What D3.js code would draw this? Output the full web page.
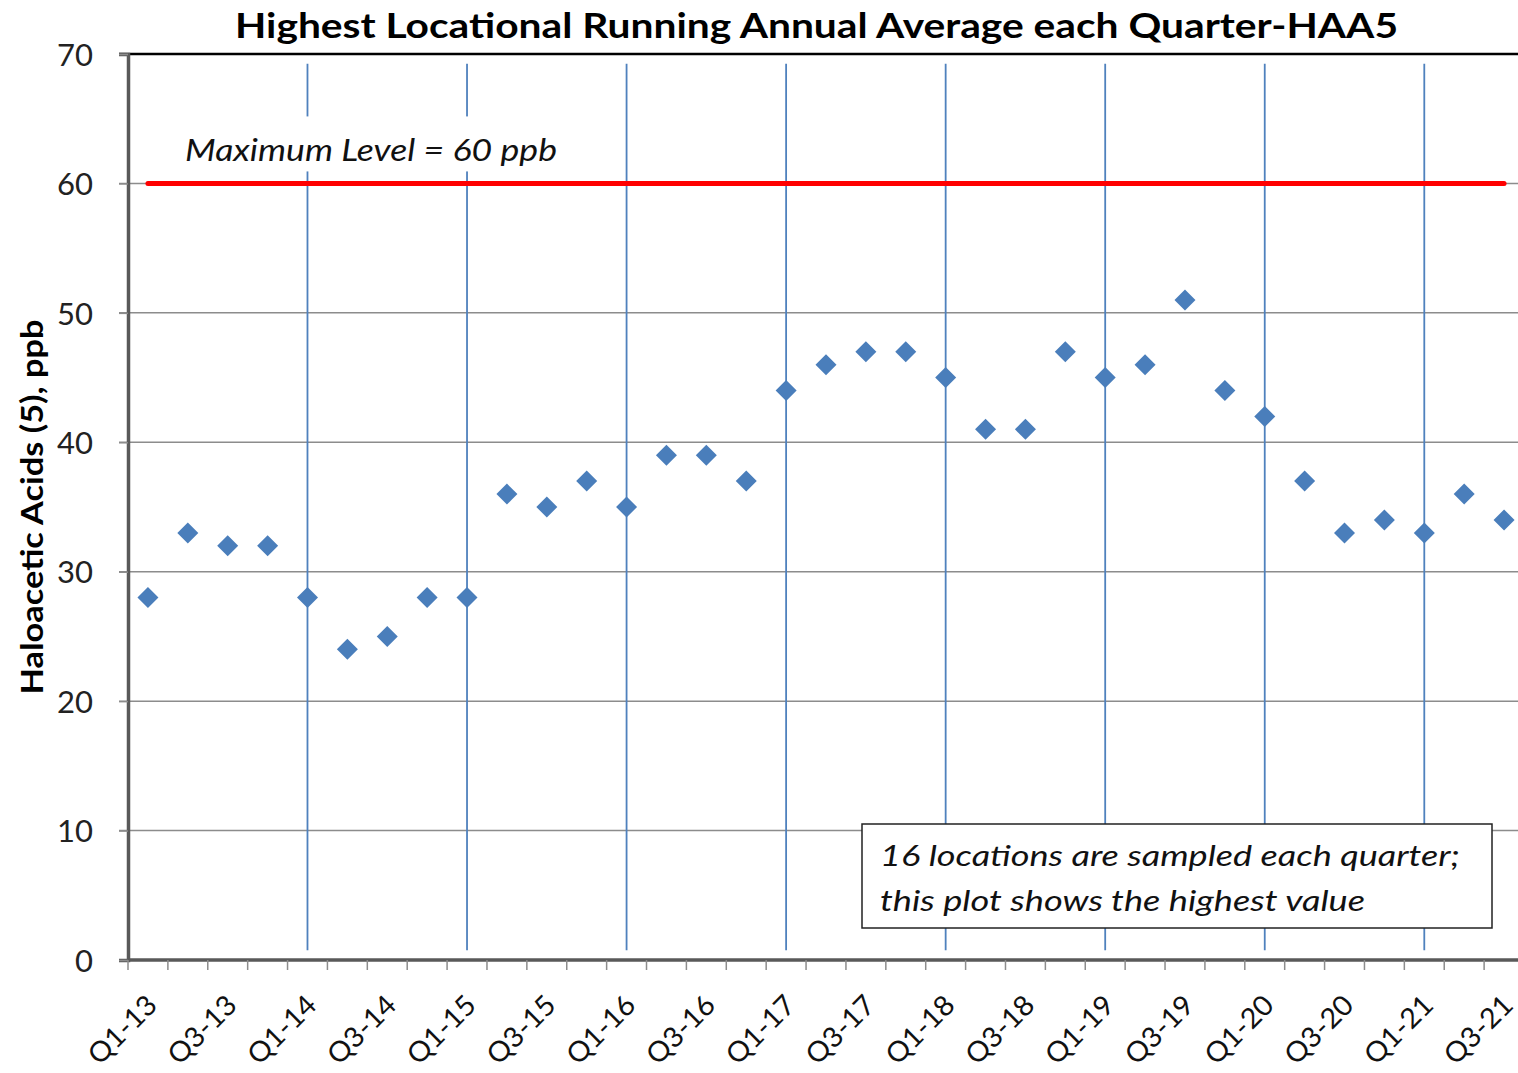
<!DOCTYPE html>
<html><head><meta charset="utf-8">
<script src="https://cdn.jsdelivr.net/npm/d3@7"></script>
<style>body{margin:0;background:#fff}svg{display:block}text{font-family:Lato,"Open Sans",sans-serif}</style>
</head><body><svg id="c" width="1518" height="1073"></svg>
<script>
const quarters = ["Q1-13","Q2-13","Q3-13","Q4-13","Q1-14","Q2-14","Q3-14","Q4-14","Q1-15","Q2-15","Q3-15","Q4-15","Q1-16","Q2-16","Q3-16","Q4-16","Q1-17","Q2-17","Q3-17","Q4-17","Q1-18","Q2-18","Q3-18","Q4-18","Q1-19","Q2-19","Q3-19","Q4-19","Q1-20","Q2-20","Q3-20","Q4-20","Q1-21","Q2-21","Q3-21"];
const haa5 = [28,33,32,32,28,24,25,28,28,36,35,37,35,39,39,37,44,46,47,47,45,41,41,47,45,46,51,44,42,37,33,34,33,36,34];
const yTicks = [0,10,20,30,40,50,60,70];
const maxLevel = 60;
const title = "Highest Locational Running Annual Average each Quarter-HAA5";
const yLabel = "Haloacetic Acids (5), ppb";
const maxLabel = "Maximum Level = 60 ppb";
const noteLines = ["16 locations are sampled each quarter;","this plot shows the highest value"];

const svg = d3.select("#c");
const L=128, R=1524, T=54, B=960;
const x = d3.scaleBand().domain(quarters).range([L,R]).padding(0);
const y = d3.scaleLinear().domain([0,70]).range([B,T]);
const cx = q => x(q)+x.bandwidth()/2;

// gridlines
svg.append("g").selectAll("line").data(yTicks.filter(v=>v>0&&v<70)).join("line")
  .attr("x1",L-9).attr("x2",1518).attr("y1",d=>y(d)).attr("y2",d=>y(d))
  .attr("stroke","#8c8c8c").attr("stroke-width",1.5);
// top border
svg.append("line").attr("x1",L-9).attr("x2",1518).attr("y1",y(70)).attr("y2",y(70)).attr("stroke","#000").attr("stroke-width",2.5);

// vertical blue lines at Q1 (except first)
const q1 = quarters.filter((q,i)=>q.startsWith("Q1")&&i>0);
svg.append("g").selectAll("line").data(q1).join("line")
  .attr("x1",cx).attr("x2",cx).attr("y1",y(69.25)).attr("y2",y(0.75))
  .attr("stroke","#4f81bd").attr("stroke-width",1.8);

// red max line
svg.append("line").attr("x1",cx(quarters[0])).attr("x2",cx(quarters[quarters.length-1]))
  .attr("y1",y(maxLevel)).attr("y2",y(maxLevel)).attr("stroke","#ff0000").attr("stroke-width",5).attr("stroke-linecap","round");

// max label with white background
const ml = svg.append("g");
ml.append("rect").attr("x",178).attr("y",y(maxLevel)-67).attr("width",386).attr("height",55).attr("fill","#fff");
ml.append("text").attr("x",185).attr("y",y(maxLevel)-22).attr("font-size",30).attr("font-style","italic").attr("fill","#111")
  .attr("textLength",372).attr("lengthAdjust","spacingAndGlyphs").text(maxLabel);

// y axis
const ya = svg.append("g").attr("transform",`translate(${L},0)`).call(d3.axisLeft(y).tickValues(yTicks).tickSize(9).tickPadding(26));
ya.select(".domain").attr("stroke","#595959").attr("stroke-width",3.5);
ya.selectAll(".tick line").attr("stroke","#8c8c8c").attr("stroke-width",1.5);
ya.selectAll(".tick text").attr("font-size",31).attr("fill","#222").attr("font-family","Lato,sans-serif").attr("dy","0.36em");

// x axis
svg.append("line").attr("x1",L).attr("x2",1518).attr("y1",B).attr("y2",B).attr("stroke","#595959").attr("stroke-width",3.5);
const bounds = quarters.map(q=>x(q)).concat([R]);
svg.append("g").selectAll("line").data(bounds).join("line")
  .attr("x1",d=>d).attr("x2",d=>d).attr("y1",B).attr("y2",B+10).attr("stroke","#8c8c8c").attr("stroke-width",1.5);
svg.append("g").selectAll("text").data(quarters.filter((q,i)=>i%2===0)).join("text")
  .attr("transform",d=>`translate(${cx(d)-3},${B+33}) rotate(-45)`)
  .attr("text-anchor","end").attr("dy","0.7em").attr("font-size",28).attr("fill","#111")
  .attr("textLength",84).attr("lengthAdjust","spacingAndGlyphs").text(d=>d);

// points
svg.append("g").selectAll("path").data(quarters).join("path")
  .attr("d",(q,i)=>`M${cx(q)},${y(haa5[i])-10.5}l10.5,10.5l-10.5,10.5l-10.5,-10.5z`)
  .attr("fill","#4a7ebb");

// note box
const nb = svg.append("g");
nb.append("rect").attr("x",862).attr("y",824).attr("width",630).attr("height",104).attr("fill","#fff").attr("stroke","#222").attr("stroke-width",1.5);
const noteW = [580,485];
nb.selectAll("text").data(noteLines).join("text").attr("x",880).attr("y",(d,i)=>866+i*45)
  .attr("font-size",28).attr("font-style","italic").attr("fill","#111")
  .attr("textLength",(d,i)=>noteW[i]).attr("lengthAdjust","spacingAndGlyphs").text(d=>d);

// title
svg.append("text").attr("x",235).attr("y",38).attr("font-size",35).attr("font-weight","bold").attr("fill","#000")
  .attr("textLength",1163).attr("lengthAdjust","spacingAndGlyphs").text(title);
// y label
svg.append("text").attr("transform",`translate(43,${507}) rotate(-90)`).attr("text-anchor","middle")
  .attr("font-size",30).attr("font-weight","bold").attr("fill","#000")
  .attr("textLength",375).attr("lengthAdjust","spacingAndGlyphs").text(yLabel);
</script></body></html>
